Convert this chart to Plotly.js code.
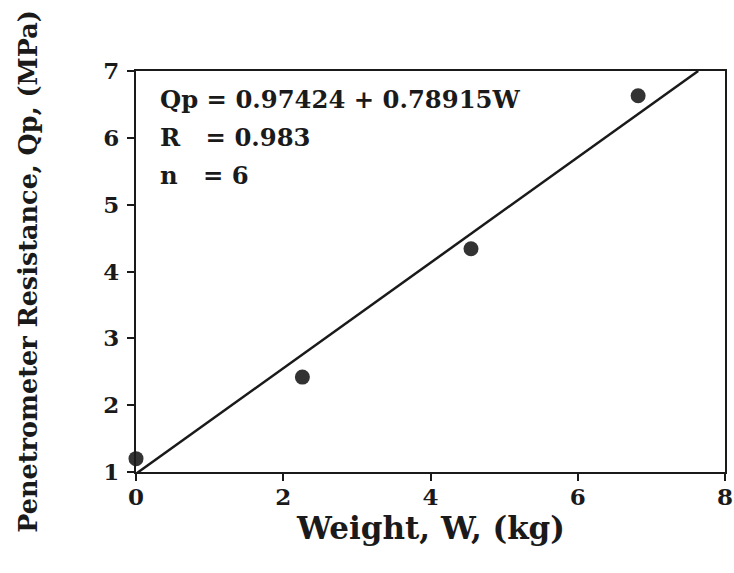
<!DOCTYPE html>
<html>
<head>
<meta charset="utf-8">
<script src="https://cdn.plot.ly/plotly-3.0.1.min.js"></script>
<style>html,body{margin:0;padding:0;background:#fff;}#chart{width:734px;height:573px;}</style>
</head>
<body>
<div id="chart"></div>
<script>
// Observed data points (Weight kg, Penetrometer resistance MPa)
const weightKg = [0, 2.26, 4.55, 6.82];
const qpMPa = [1.20, 2.42, 4.34, 6.63];
// Regression line endpoints: Qp = 0.97424 + 0.78915W
const fitW = [0, 7.636];
const fitQp = [0.974, 7.0];
const xTicks = [0, 2, 4, 6, 8];
const yTicks = [1, 2, 3, 4, 5, 6, 7];
const statLines = ["Qp = 0.97424 + 0.78915W", "R&nbsp;&nbsp; = 0.983", "n&nbsp;&nbsp; = 6"];
const xTitle = "Weight, W, (kg)";
const yTitle = "Penetrometer Resistance, Qp, (MPa)";

const FONT = "DejaVu Serif";
const ink = "#1a1a1a";

const traces = [
  {x: fitW, y: fitQp, mode: "lines", type: "scatter",
   line: {color: ink, width: 2.5}, hoverinfo: "skip", cliponaxis: true},
  {x: weightKg, y: qpMPa, mode: "markers", type: "scatter",
   marker: {color: "#333333", size: 15}, cliponaxis: false}
];

const statY = [0.928, 0.835, 0.740];
const annotations = statLines.map((t, i) => ({
  text: t, xref: "paper", yref: "paper", x: 0.038, y: statY[i],
  xanchor: "left", yanchor: "middle", showarrow: false, align: "left",
  font: {family: FONT, size: 24.3, color: ink, weight: "bold"}
}));
// x-axis title placed as a paper annotation for exact vertical position
annotations.push({
  text: xTitle, xref: "paper", yref: "paper", x: 0.5, y: -0.14,
  xanchor: "center", yanchor: "middle", showarrow: false,
  font: {family: FONT, size: 31, color: ink, weight: "bold"}
});

const axisCommon = {
  showgrid: false, zeroline: false, showline: true, linecolor: ink, linewidth: 2.2,
  mirror: true, ticks: "outside", tickwidth: 2, tickcolor: ink,
  ticklabeloverflow: "allow",
  tickfont: {family: FONT, size: 23, color: ink, weight: "bold"}, fixedrange: true
};

const layout = {
  width: 734, height: 573,
  margin: {l: 135.5, r: 9, t: 71, b: 100.5},
  paper_bgcolor: "#ffffff", plot_bgcolor: "#ffffff",
  showlegend: false,
  xaxis: Object.assign({}, axisCommon, {
    range: [0, 8], tickvals: xTicks, ticktext: xTicks.map(String), ticklen: 7,
    ticklabelstandoff: -4
  }),
  yaxis: Object.assign({}, axisCommon, {
    range: [1, 7], tickvals: yTicks, ticktext: yTicks.map(String), ticklen: 7,
    ticklabelstandoff: 3,
    title: {text: yTitle, standoff: 58,
            font: {family: FONT, size: 25.5, color: ink, weight: "bold"}}
  }),
  annotations: annotations
};

Plotly.newPlot("chart", traces, layout, {displayModeBar: false, staticPlot: true});
</script>
</body>
</html>
